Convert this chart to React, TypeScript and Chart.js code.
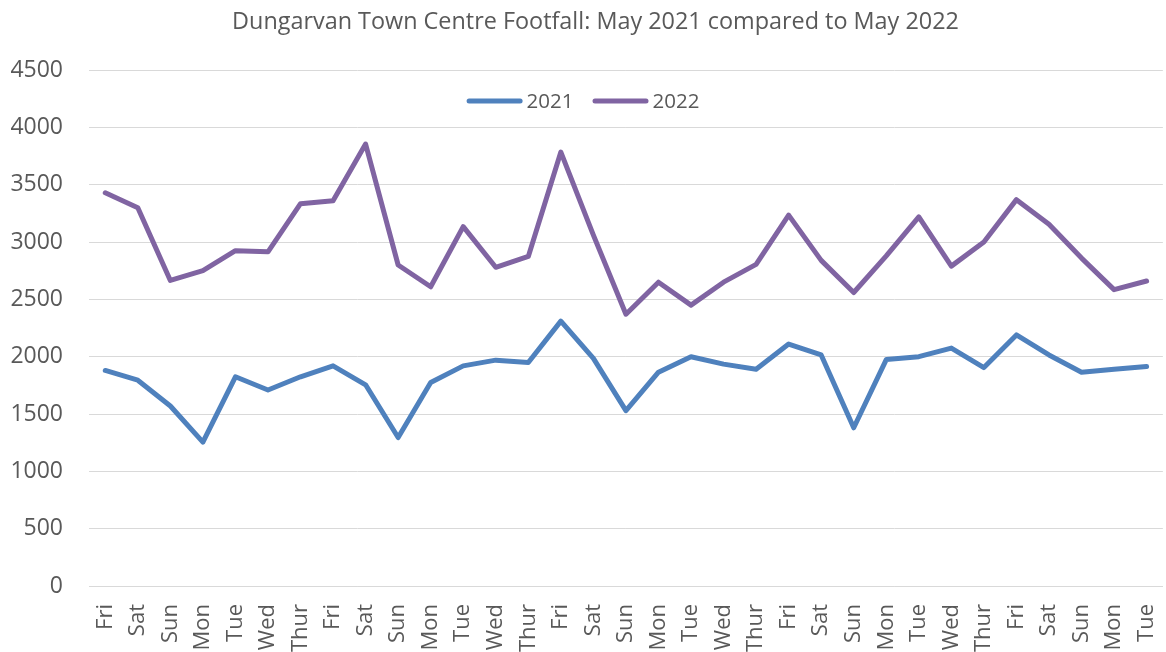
import React, { useEffect, useRef } from "react";
import { Chart, registerables } from "chart.js";

Chart.register(...registerables);

const categories = [
  "Fri", "Sat", "Sun", "Mon", "Tue", "Wed", "Thur",
  "Fri", "Sat", "Sun", "Mon", "Tue", "Wed", "Thur",
  "Fri", "Sat", "Sun", "Mon", "Tue", "Wed", "Thur",
  "Fri", "Sat", "Sun", "Mon", "Tue", "Wed", "Thur",
  "Fri", "Sat", "Sun", "Mon", "Tue",
];

const series2021 = [
  1880, 1795, 1570, 1255, 1825, 1710, 1825,
  1920, 1755, 1295, 1775, 1920, 1970, 1950,
  2310, 1985, 1530, 1865, 2000, 1935, 1890,
  2110, 2015, 1380, 1975, 2000, 2075, 1905,
  2190, 2015, 1865, 1890, 1915,
];

const series2022 = [
  3430, 3300, 2665, 2750, 2925, 2915, 3335,
  3360, 3855, 2800, 2610, 3135, 2780, 2875,
  3785, 3060, 2370, 2650, 2450, 2650, 2805,
  3235, 2840, 2560, 2880, 3220, 2790, 3000,
  3370, 3155, 2860, 2585, 2660,
];

const seriesLabels = ["2021", "2022"];
const seriesColors = ["#4F81BD", "#8064A2"];
const titleText = "Dungarvan Town Centre Footfall: May 2021 compared to May 2022";

const FONT = "'Open Sans', sans-serif";
const VIEW_W = 1166;
const VIEW_H = 652;
const CANVAS_W = 1191;

const insideLegend = {
  id: "insideLegend",
  afterDatasetsDraw(chart: any) {
    const ctx = chart.ctx;
    const area = chart.chartArea;
    const swatch = 56;
    const gapText = 4;
    const gapItem = 19;
    ctx.save();
    ctx.font = `20.5px ${FONT}`;
    const items = chart.data.datasets.map((ds: any) => ({
      label: ds.label,
      color: ds.borderColor,
      w: ctx.measureText(ds.label).width,
    }));
    let total = 0;
    items.forEach((it: any, i: number) => {
      total += swatch + gapText + it.w + (i < items.length - 1 ? gapItem : 0);
    });
    let x = VIEW_W / 2 - total / 2;
    const y = area.top + 31;
    items.forEach((it: any) => {
      ctx.strokeStyle = it.color;
      ctx.lineWidth = 5;
      ctx.lineCap = "round";
      ctx.beginPath();
      ctx.moveTo(x + 2.5, y);
      ctx.lineTo(x + swatch - 2.5, y);
      ctx.stroke();
      ctx.fillStyle = "#595959";
      ctx.textAlign = "left";
      ctx.textBaseline = "middle";
      ctx.fillText(it.label, x + swatch + gapText, y + 1);
      x += swatch + gapText + it.w + gapItem;
    });
    ctx.restore();
  },
};

export default function App() {
  const ref = useRef<HTMLCanvasElement | null>(null);

  useEffect(() => {
    document.body.style.margin = "0";
    const canvas = ref.current;
    if (!canvas) return;
    const chart = new Chart(canvas, {
      type: "line",
      data: {
        labels: categories,
        datasets: [
          {
            label: seriesLabels[0],
            data: series2021,
            borderColor: seriesColors[0],
            backgroundColor: seriesColors[0],
            borderWidth: 5,
            borderCapStyle: "round",
            borderJoinStyle: "round",
            pointRadius: 0,
            tension: 0,
          },
          {
            label: seriesLabels[1],
            data: series2022,
            borderColor: seriesColors[1],
            backgroundColor: seriesColors[1],
            borderWidth: 5,
            borderCapStyle: "round",
            borderJoinStyle: "round",
            pointRadius: 0,
            tension: 0,
          },
        ],
      },
      plugins: [insideLegend],
      options: {
        animation: false,
        responsive: false,
        maintainAspectRatio: false,
        layout: { padding: 0 },
        plugins: {
          title: {
            display: true,
            text: titleText,
            color: "#595959",
            font: { family: FONT, size: 23.4, weight: "normal", lineHeight: 1.2 },
            padding: { top: 8, bottom: 34 },
          },
          legend: { display: false },
          tooltip: { enabled: false },
        },
        scales: {
          x: {
            offset: true,
            grid: { display: false, drawTicks: false },
            border: { display: true, color: "#D9D9D9", width: 1 },
            ticks: {
              color: "#595959",
              font: { family: FONT, size: 22 },
              maxRotation: 90,
              minRotation: 90,
              autoSkip: false,
              padding: 18,
            },
            afterFit: (scale: any) => {
              scale.height = 66;
            },
          },
          y: {
            min: 0,
            max: 4500,
            grid: { color: "#D9D9D9", lineWidth: 1, drawTicks: false },
            border: { display: false },
            ticks: {
              stepSize: 500,
              color: "#595959",
              font: { family: FONT, size: 23 },
              padding: 26,
              callback: (v: any) => String(v),
            },
            afterFit: (scale: any) => {
              scale.width = 89;
            },
          },
        },
      },
    });
    return () => chart.destroy();
  }, []);

  return (
    <div style={{ width: VIEW_W, height: VIEW_H, overflow: "hidden" }}>
      <canvas ref={ref} width={CANVAS_W} height={VIEW_H} style={{ width: CANVAS_W, height: VIEW_H, display: "block" }} />
    </div>
  );
}
